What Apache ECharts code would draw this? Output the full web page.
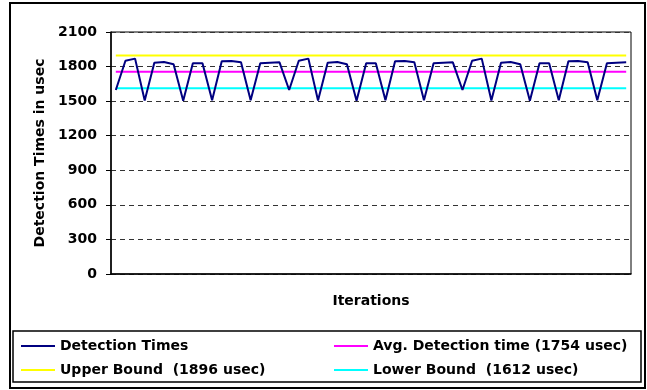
<!DOCTYPE html>
<html>
<head>
<meta charset="utf-8">
<script src="https://cdn.jsdelivr.net/npm/echarts@6/dist/echarts.min.js"></script>
<style>
  html, body { margin: 0; padding: 0; background: #fff; }
  #main { width: 647px; height: 390px; }
</style>
</head>
<body>
<div id="main"></div>
<script>
// values
const iterations = [];
for (let i = 1; i <= 54; i++) iterations.push(String(i));

const detectionTimes = [
  1597, 1851, 1869, 1505, 1834, 1840, 1820, 1504, 1828, 1828, 1507, 1846, 1849, 1837, 1507, 1828, 1834, 1837,
  1597, 1851, 1869, 1505, 1834, 1840, 1820, 1504, 1828, 1828, 1507, 1846, 1849, 1837, 1507, 1828, 1834, 1837,
  1597, 1851, 1869, 1505, 1834, 1840, 1820, 1504, 1828, 1828, 1507, 1846, 1849, 1837, 1507, 1828, 1834, 1837
];
const avgDetection = 1754;
const upperBound = 1896;
const lowerBound = 1612;

const yTicks = { min: 0, max: 2100, interval: 300 };

const font = 'DejaVu Sans, sans-serif';
const txt = { color: '#000', fontWeight: 'bold', fontSize: 14, fontFamily: font };

function flat(name, value, color) {
  return {
    name: name,
    type: 'line',
    data: iterations.map(() => value),
    symbol: 'none',
    lineStyle: { color: color, width: 2 },
    itemStyle: { color: color }
  };
}

var chart = echarts.init(document.getElementById('main'));
chart.setOption({
  backgroundColor: '#fff',
  animation: false,
  textStyle: { fontFamily: font },
  grid: {
    left: 111, top: 32, right: 16, bottom: 116,
    show: true, borderColor: '#000', borderWidth: 1
  },
  xAxis: {
    type: 'category',
    data: iterations,
    boundaryGap: true,
    axisLine: { lineStyle: { color: '#000', width: 1.5 } },
    axisTick: { show: false },
    axisLabel: { show: false },
    name: 'Iterations',
    nameLocation: 'middle',
    nameGap: 20,
    nameTextStyle: txt
  },
  yAxis: {
    type: 'value',
    min: yTicks.min,
    max: yTicks.max,
    interval: yTicks.interval,
    axisLine: { show: true, lineStyle: { color: '#000', width: 1.5 } },
    axisTick: { show: true, length: 5, lineStyle: { color: '#000' } },
    axisLabel: Object.assign({ margin: 14, formatter: v => String(v) }, txt),
    splitLine: { lineStyle: { color: '#333', type: [5, 4], width: 1 } },
    name: 'Detection Times in usec',
    nameLocation: 'middle',
    nameGap: 62,
    nameTextStyle: txt
  },
  legend: [
    {
      data: ['Detection Times', 'Upper Bound  (1896 usec)'],
      orient: 'vertical',
      left: 16, top: 333,
      icon: 'rect', itemWidth: 34, itemHeight: 2, itemGap: 8,
      textStyle: Object.assign({ lineHeight: 16 }, txt)
    },
    {
      data: ['Avg. Detection time (1754 usec)', 'Lower Bound  (1612 usec)'],
      orient: 'vertical',
      left: 329, top: 333,
      icon: 'rect', itemWidth: 34, itemHeight: 2, itemGap: 8,
      textStyle: Object.assign({ lineHeight: 16 }, txt)
    }
  ],
  graphic: [
    { type: 'rect', shape: { x: 10, y: 3, width: 635, height: 385 }, style: { fill: 'none', stroke: '#000', lineWidth: 2 }, silent: true },
    { type: 'rect', shape: { x: 13, y: 331, width: 628, height: 51 }, style: { fill: 'none', stroke: '#000', lineWidth: 1.5 }, silent: true }
  ],
  series: [
    flat('Upper Bound  (1896 usec)', upperBound, '#ffff00'),
    flat('Avg. Detection time (1754 usec)', avgDetection, '#ff00ff'),
    flat('Lower Bound  (1612 usec)', lowerBound, '#00ffff'),
    {
      name: 'Detection Times',
      type: 'line',
      data: detectionTimes,
      symbol: 'none',
      lineStyle: { color: '#000080', width: 2 },
      itemStyle: { color: '#000080' },
      z: 5
    }
  ]
});
</script>
</body>
</html>
